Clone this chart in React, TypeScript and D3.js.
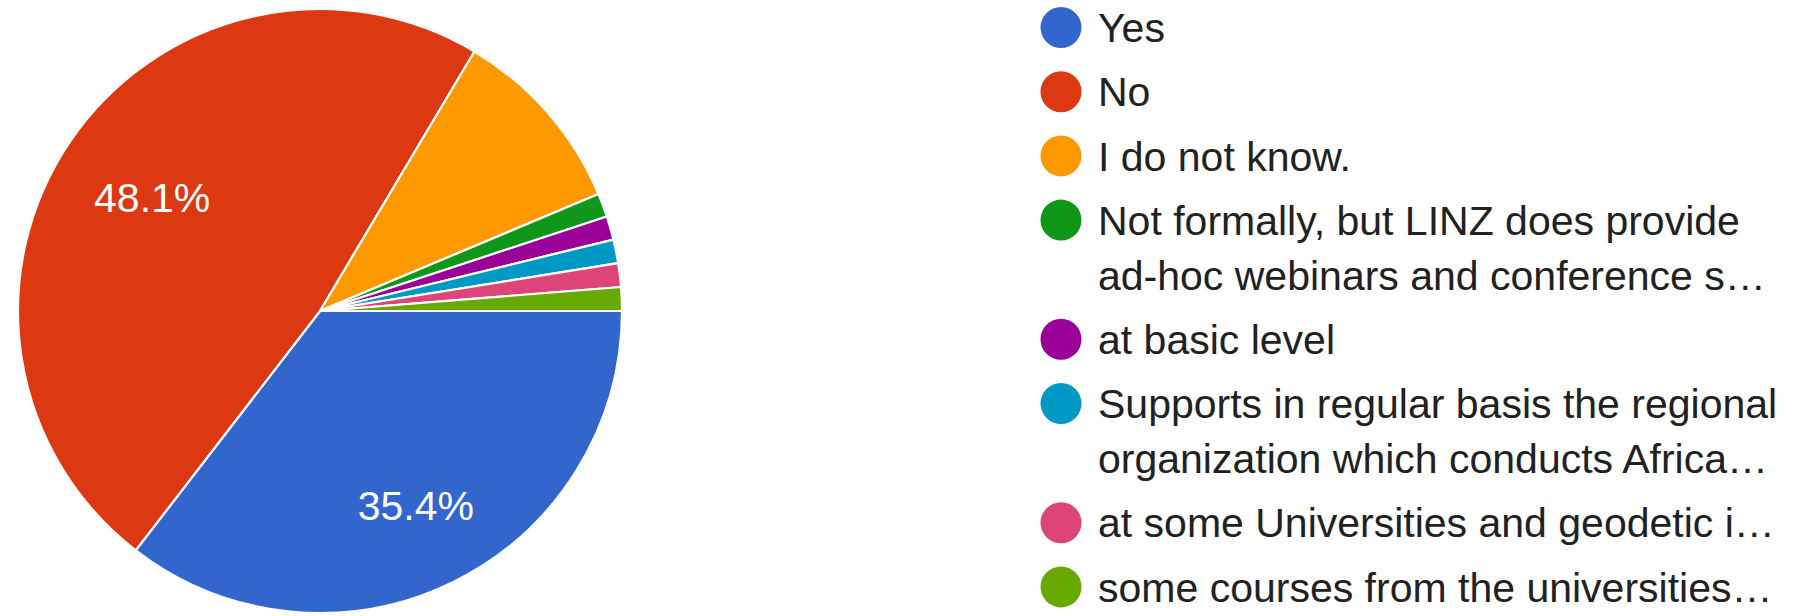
import React from "react";
import * as d3 from "d3";

const categories = [
  "Yes",
  "No",
  "I do not know.",
  "Not formally, but LINZ does provide ad-hoc webinars and conference sessions",
  "at basic level",
  "Supports in regular basis the regional organization which conducts African trainings",
  "at some Universities and geodetic institutions",
  "some courses from the universities",
];
const counts = [28, 38, 8, 1, 1, 1, 1, 1];
const legendLines = [
  ["Yes"],
  ["No"],
  ["I do not know."],
  ["Not formally, but LINZ does provide", "ad-hoc webinars and conference s…"],
  ["at basic level"],
  ["Supports in regular basis the regional", "organization which conducts Africa…"],
  ["at some Universities and geodetic i…"],
  ["some courses from the universities…"],
];
const colors = ["#3366cc", "#dc3912", "#ff9900", "#109618", "#990099", "#0099c6", "#dd4477", "#66aa00"];

const W = 1809;
const H = 616;
const cx = 320;
const cy = 311;
const R = 302;
const FONT = "'Liberation Sans', Arial, Helvetica, sans-serif";
const FS = 41;

function measure(text: string): number {
  try {
    const c = document.createElement("canvas");
    const ctx = c.getContext("2d");
    if (ctx) {
      ctx.font = `${FS}px 'Liberation Sans', Arial, sans-serif`;
      return ctx.measureText(text).width;
    }
  } catch (e) {}
  return text.length * FS * 0.56;
}

export default function App() {
  const total = d3.sum(counts);
  const pie = d3
    .pie<number>()
    .sort(null)
    .value((d) => d)
    .startAngle(Math.PI / 2)
    .endAngle(Math.PI / 2 + 2 * Math.PI);
  const arcs = pie(counts);
  const arc = d3.arc<d3.PieArcDatum<number>>().innerRadius(0).outerRadius(R);

  const legendX = 1061;
  const legendTop = 27.5;
  const entryStep = 64.2;
  const lineStep = 55;
  let yCursor = legendTop;
  const legendItems = legendLines.map((lines, i) => {
    const y = yCursor;
    yCursor += entryStep + (lines.length - 1) * lineStep;
    return { lines, y, color: colors[i] };
  });

  const capH = 0.716 * FS;
  const L = 260;
  const labels = arcs
    .map((a, i) => {
      const pct = a.data / total;
      if (pct < 0.2) return null;
      const text = `${(pct * 100).toFixed(1)}%`;
      const mid = (a.startAngle + a.endAngle) / 2;
      const dx = Math.sin(mid);
      const dy = -Math.cos(mid);
      const w = measure(text) / 2;
      const h = capH / 2;
      const b = Math.abs(dx) * w + Math.abs(dy) * h;
      const c = w * w + h * h - L * L;
      const t = -b + Math.sqrt(b * b - c);
      return { text, x: cx + t * dx, y: cy + t * dy, key: i };
    })
    .filter((d) => d !== null) as { text: string; x: number; y: number; key: number }[];

  return (
    <svg
      width={W}
      height={H}
      style={{ position: "absolute", left: 0, top: 0, background: "#ffffff" }}
      fontFamily={FONT}
    >
      <g transform={`translate(${cx},${cy})`}>
        {arcs.map((a, i) => (
          <path key={categories[i]} d={arc(a) || ""} fill={colors[i]} stroke="#ffffff" strokeWidth={2.2} strokeLinejoin="round" />
        ))}
      </g>
      {labels.map((l) => (
        <text key={l.key} x={l.x} y={l.y + capH / 2} textAnchor="middle" fontSize={FS} fill="#ffffff">
          {l.text}
        </text>
      ))}
      {legendItems.map((it, i) => (
        <g key={categories[i]}>
          <circle cx={legendX} cy={it.y} r={20.5} fill={it.color} />
          {it.lines.map((ln, j) => (
            <text key={j} x={1098} y={it.y + 14.7 + j * lineStep} fontSize={FS} fill="#212121">
              {ln}
            </text>
          ))}
        </g>
      ))}
    </svg>
  );
}
